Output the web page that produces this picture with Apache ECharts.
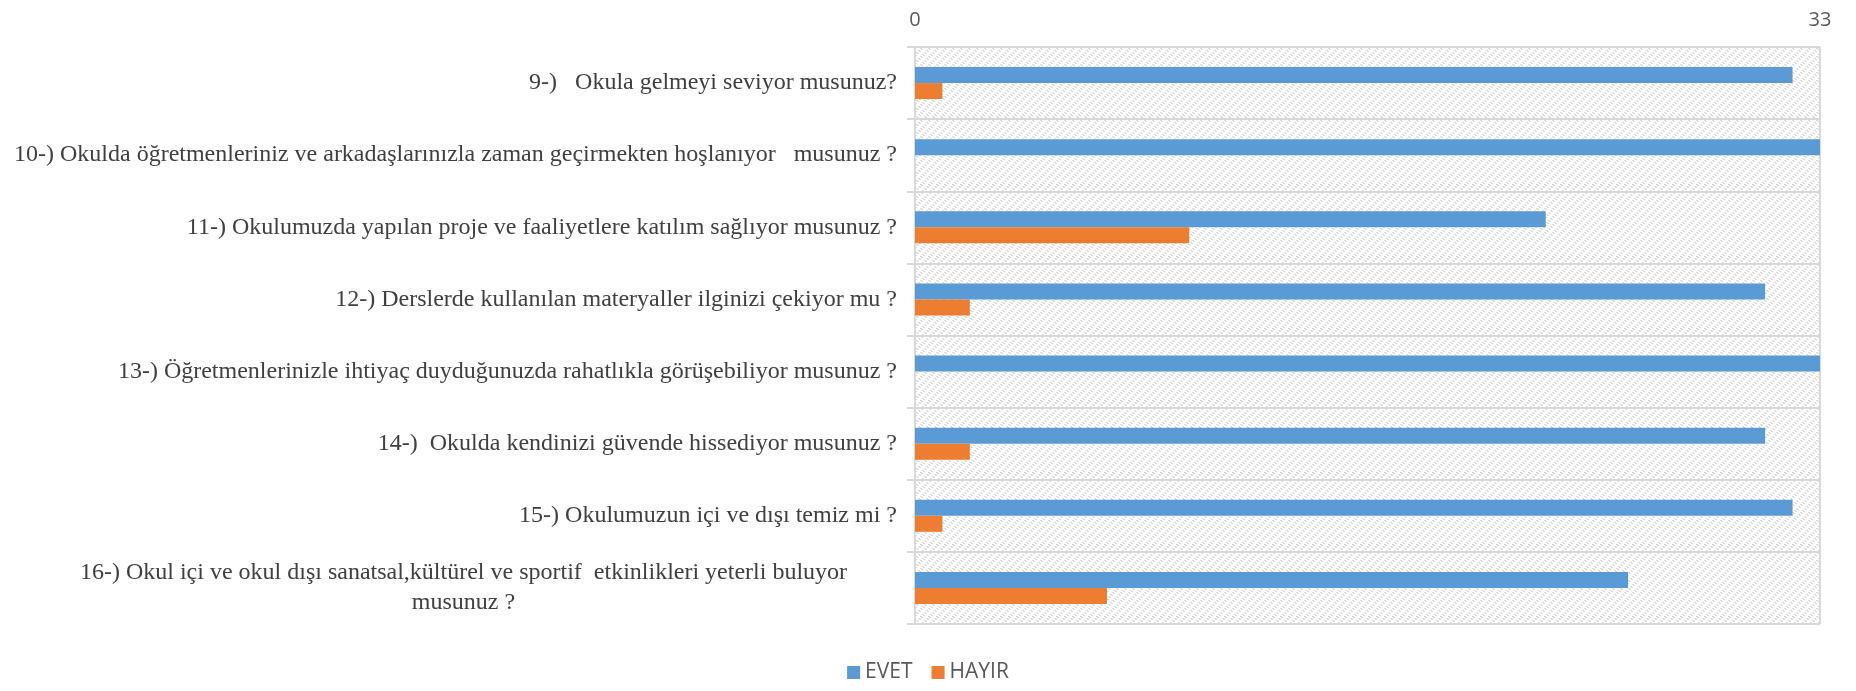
<!DOCTYPE html>
<html>
<head>
<meta charset="utf-8">
<script src="https://cdn.jsdelivr.net/npm/echarts@6/dist/echarts.min.js"></script>
<style>
html,body{margin:0;padding:0;background:#fff;}
#chart{width:1856px;height:691px;}
</style>
</head>
<body>
<div id="chart"></div>
<script>
const categories = [
  "9-)   Okula gelmeyi seviyor musunuz?",
  "10-) Okulda öğretmenleriniz ve arkadaşlarınızla zaman geçirmekten hoşlanıyor   musunuz ?",
  "11-) Okulumuzda yapılan proje ve faaliyetlere katılım sağlıyor musunuz ?",
  "12-) Derslerde kullanılan materyaller ilginizi çekiyor mu ?",
  "13-) Öğretmenlerinizle ihtiyaç duyduğunuzda rahatlıkla görüşebiliyor musunuz ?",
  "14-)  Okulda kendinizi güvende hissediyor musunuz ?",
  "15-) Okulumuzun içi ve dışı temiz mi ?",
  "16-) Okul içi ve okul dışı sanatsal,kültürel ve sportif  etkinlikleri yeterli buluyor\nmusunuz ?"
];
const evet = [32, 33, 23, 31, 33, 31, 32, 26];
const hayir = [1, 0, 10, 2, 0, 2, 1, 7];
const axisMin = 0, axisMax = 33;

// hatched background pattern
const pc = document.createElement('canvas');
pc.width = 8; pc.height = 8;
const pctx = pc.getContext('2d');
pctx.fillStyle = '#ffffff';
pctx.fillRect(0, 0, 8, 8);
pctx.fillStyle = '#dcdcdc';
for (let y = 0; y < 8; y++) {
  for (let x = 0; x < 8; x++) {
    if (((x - y + 16) % 8) < 2 && (Math.floor(y / 2) % 2 === 0)) pctx.fillRect(x, y, 1, 1);
    if (((x - y + 16) % 8) >= 4 && ((x - y + 16) % 8) < 6 && (Math.floor(y / 2) % 2 === 1)) pctx.fillRect(x, y, 1, 1);
  }
}

const serif = "'Liberation Serif', 'Times New Roman', 'DejaVu Serif', serif";
const sans = "'Open Sans', 'Liberation Sans', sans-serif";
const chart = echarts.init(document.getElementById('chart'), null, {renderer: 'canvas'});
const gridColor = '#d9d9d9';
chart.setOption({
  animation: false,
  backgroundColor: '#ffffff',
  grid: {
    left: 915, right: 36, top: 47, bottom: 67,
    show: true,
    backgroundColor: {image: pc, repeat: 'repeat'},
    borderWidth: 0,
    containLabel: false
  },
  legend: {
    data: ['EVET', 'HAYIR'],
    bottom: 3,
    left: 'center',
    icon: 'rect',
    itemWidth: 13, itemHeight: 13, itemGap: 19,
    textStyle: {fontFamily: sans, fontSize: 21, color: '#595959'}
  },
  xAxis: {
    type: 'value',
    position: 'top',
    min: axisMin, max: axisMax, interval: 33,
    axisLine: {show: false},
    axisTick: {show: false},
    splitLine: {show: true, lineStyle: {color: gridColor, width: 2}},
    axisLabel: {margin: 17, fontFamily: sans, fontSize: 20, color: '#595959'}
  },
  yAxis: {
    type: 'category',
    inverse: true,
    data: categories,
    axisLine: {show: true, lineStyle: {color: gridColor, width: 2}},
    axisTick: {show: true, length: 8, lineStyle: {color: gridColor, width: 2}},
    splitLine: {show: true, lineStyle: {color: gridColor, width: 2}},
    axisLabel: {
      margin: 18,
      fontFamily: serif,
      fontSize: 24,
      color: '#404040',
      lineHeight: 30,
      formatter: function (v) {
        if (v.indexOf('\n') >= 0) {
          return v.split('\n').map(s => '{c|' + s + '}').join('\n');
        }
        return v;
      },
      rich: {
        c: {width: 867, align: 'center', fontFamily: serif, fontSize: 24, color: '#404040', lineHeight: 30}
      }
    }
  },
  series: [
    {name: 'EVET', type: 'bar', data: evet, barWidth: 16, barGap: '0%', itemStyle: {color: '#5b9bd5'}},
    {name: 'HAYIR', type: 'bar', data: hayir, barWidth: 16, barGap: '0%', itemStyle: {color: '#ed7d31'}}
  ]
});
</script>
</body>
</html>
